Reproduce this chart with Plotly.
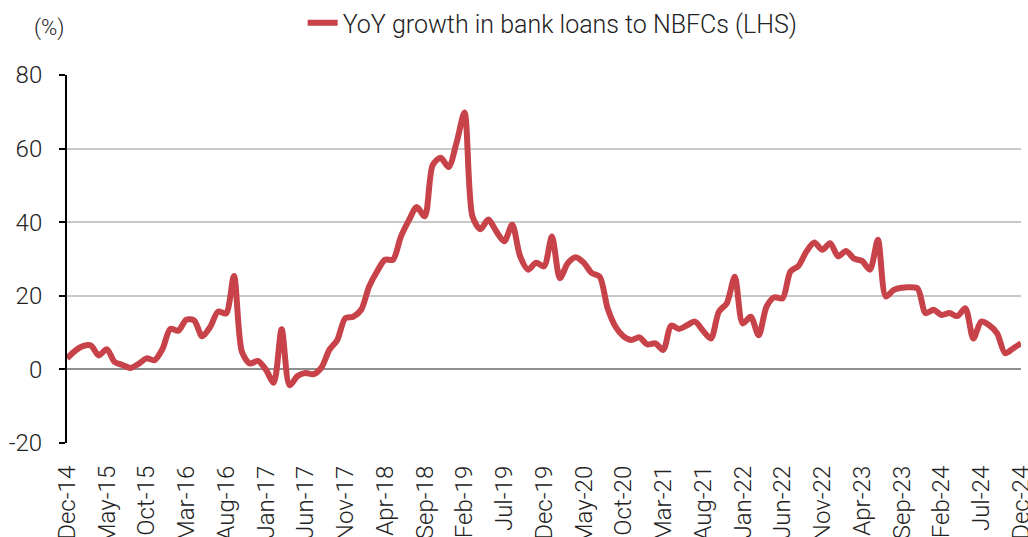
import pandas as pd
import plotly.graph_objects as go

months = [d.strftime("%b-%y") for d in pd.date_range("2014-12-01", "2024-12-01", freq="MS")]

loan_growth = [
    3.0, 5.0, 6.3, 6.5, 3.8, 5.5, 2.0, 1.2, 0.4, 1.5,
    3.0, 2.5, 5.5, 11.0, 10.5, 13.5, 13.3, 9.0, 11.5, 15.7,
    15.2, 25.4, 4.8, 1.6, 2.3, 0.0, -3.6, 10.9, -4.3, -1.8,
    -1.0, -1.3, 0.5, 5.3, 8.0, 13.9, 14.3, 16.2, 22.5, 26.6,
    29.8, 29.8, 36.1, 40.5, 44.1, 41.6, 55.5, 57.5, 55.0, 61.6,
    69.8, 41.6, 38.1, 40.7, 37.5, 34.8, 39.3, 30.7, 27.1, 29.0,
    28.0, 36.1, 24.8, 28.9, 30.5, 29.0, 26.2, 25.2, 16.6, 11.6,
    9.0, 8.0, 8.7, 6.8, 7.1, 5.3, 11.9, 11.0, 12.0, 13.0,
    10.5, 8.4, 15.7, 18.0, 25.2, 12.5, 14.3, 9.3, 17.1, 19.6,
    19.3, 26.6, 28.1, 32.0, 34.5, 32.5, 34.3, 30.7, 32.2, 30.1,
    29.5, 27.1, 35.2, 19.8, 21.6, 22.2, 22.3, 22.0, 15.3, 16.2,
    14.8, 15.3, 14.5, 16.6, 8.4, 13.0, 12.0, 9.8, 4.4, 5.7,
    7.1,
]

tick_labels = months[::5]
y_ticks = [-20, 0, 20, 40, 60, 80]

FONT = "Roboto"
TXT = "#222222"

fig = go.Figure()
fig.add_trace(go.Scatter(
    x=months, y=loan_growth, mode="lines",
    name="YoY growth in bank loans to NBFCs (LHS)",
    line=dict(color="#C8424A", width=6, shape="spline", smoothing=0.8),
))

fig.update_layout(
    template="none",
    width=1028, height=537,
    margin=dict(l=67, r=7, t=75, b=94, pad=0, autoexpand=False),
    paper_bgcolor="white", plot_bgcolor="white",
    font=dict(family=FONT, size=24, color=TXT, weight=300),
    showlegend=True,
    legend=dict(orientation="h", x=0.247, xanchor="left", y=1.141, yanchor="middle",
                font=dict(family=FONT, size=25, color=TXT, weight=300),
                bgcolor="rgba(0,0,0,0)"),
    annotations=[dict(text="(%)", xref="paper", yref="paper", x=-0.037, y=1.128,
                      xanchor="left", yanchor="middle", showarrow=False,
                      font=dict(family=FONT, size=22, color=TXT))],
)

fig.update_xaxes(
    type="category", range=[0, len(months) - 1],
    tickmode="array", tickvals=tick_labels, ticktext=tick_labels,
    tickangle=-90, ticks="", showgrid=False, showline=False, zeroline=False,
    automargin=False, ticklabelstandoff=17,
    tickfont=dict(family=FONT, size=24, color=TXT, weight=300),
)
fig.update_yaxes(
    range=[-20, 80], tickvals=y_ticks, ticktext=[str(v) for v in y_ticks],
    showgrid=True, gridcolor="#C8C8C8", gridwidth=2,
    zeroline=True, zerolinecolor="#8E8E8E", zerolinewidth=2,
    showline=True, linecolor="black", linewidth=2,
    ticks="outside", ticklen=6, tickwidth=2, tickcolor="black",
    automargin=False, ticklabelstandoff=12,
    tickfont=dict(family=FONT, size=24, color=TXT, weight=300),
)

fig.write_html("out.html")
